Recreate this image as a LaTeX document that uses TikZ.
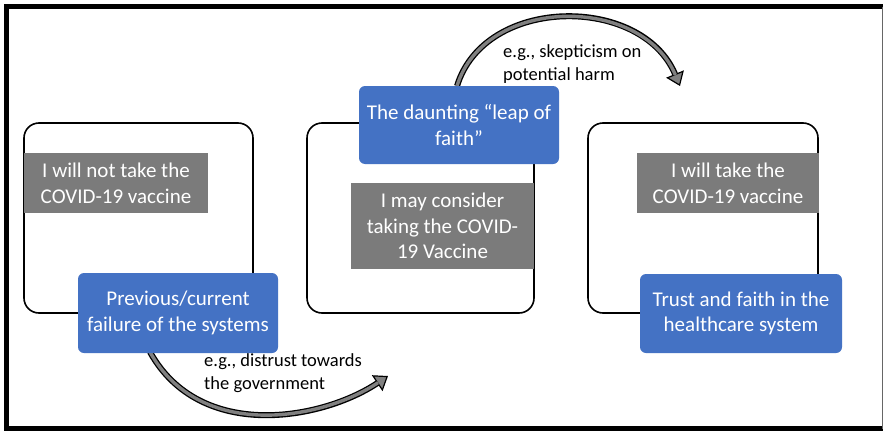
\documentclass[tikz,border=0pt]{standalone}
\usepackage{fontspec}
\setmainfont{Carlito}
\usetikzlibrary{arrows.meta}
\definecolor{boxblue}{HTML}{4472C4}
\definecolor{boxgray}{HTML}{7B7B7B}
\definecolor{arrgray}{HTML}{808080}
\begin{document}
\begin{tikzpicture}[x=1pt,y=-1pt,
  framebox/.style={draw=black, line width=1.6pt, rounded corners=15pt, inner sep=0pt},
  graybox/.style={fill=boxgray, text=white, align=center, inner sep=0pt,
    font=\fontsize{21}{25.6}\selectfont},
  bluebox/.style={fill=boxblue, text=white, align=center, rounded corners=6pt, inner sep=0pt,
    font=\fontsize{21}{25.6}\selectfont},
  lbl/.style={align=left, anchor=west, inner sep=0pt, text=black,
    font=\fontsize{18.5}{23}\selectfont},
  arrouter/.style={draw=black, line width=6pt,
    -{Triangle[length=13pt, width=19pt, line width=1.2pt, fill=arrgray]}},
  arrinner/.style={draw=arrgray, line width=3.4pt, shorten >=12pt}
]
\useasboundingbox (0,0) rectangle (883,431);
\fill[white] (0,0) rectangle (883,431);
% outer frame
\draw[line width=5pt] (6.5,4) -- (6.5,431);
\draw[line width=5pt] (4,6.5) -- (883,6.5);
\draw[line width=5pt] (4,428.5) -- (883,428.5);
\draw[line width=0.8pt, black!60] (882,6.5) -- (882,428.5);

% arrows (drawn first, boxes cover their start)
\coordinate (ts) at (457,86);
\coordinate (te) at (680,86);
\coordinate (bs) at (150,352);
\coordinate (be) at (388,376);
\draw[arrouter] (ts) .. controls (485,-5) and (642,-5) .. (te);
\draw[arrinner] (ts) .. controls (485,-5) and (642,-5) .. (te);
\draw[arrouter] (bs) .. controls (200,442) and (322,420) .. (be);
\draw[arrinner] (bs) .. controls (200,442) and (322,420) .. (be);

% frames
\node[framebox, minimum width=229pt, minimum height=190pt] (f1) at (138.5,218) {};
\node[framebox, minimum width=227pt, minimum height=190pt] (f2) at (420.5,218) {};
\node[framebox, minimum width=230pt, minimum height=190pt] (f3) at (703,218) {};

% gray boxes
\node[graybox, minimum width=184pt, minimum height=60pt] (g1) at (116,183)
  {I will not take the\\COVID-19 vaccine};
\node[graybox, minimum width=183pt, minimum height=86pt] (g2) at (442.5,226)
  {I may consider\\taking the COVID-\\19 Vaccine};
\node[graybox, minimum width=182pt, minimum height=60pt] (g3) at (728,183)
  {I will take the\\COVID-19 vaccine};

% blue boxes
\node[bluebox, minimum width=200pt, minimum height=80pt] (b1) at (178,313)
  {Previous/current\\failure of the systems};
\node[bluebox, minimum width=200pt, minimum height=78pt] (b2) at (459,125)
  {The daunting “leap of\\faith”};
\node[bluebox, minimum width=202pt, minimum height=79pt] (b3) at (741,313.5)
  {Trust and faith in the\\healthcare system};

% labels
\node[lbl] (l1) at (503,64.5) {e.g., skepticism on\\potential harm};
\node[lbl] (l2) at (204,373) {e.g., distrust towards\\the government};
\end{tikzpicture}
\end{document}
